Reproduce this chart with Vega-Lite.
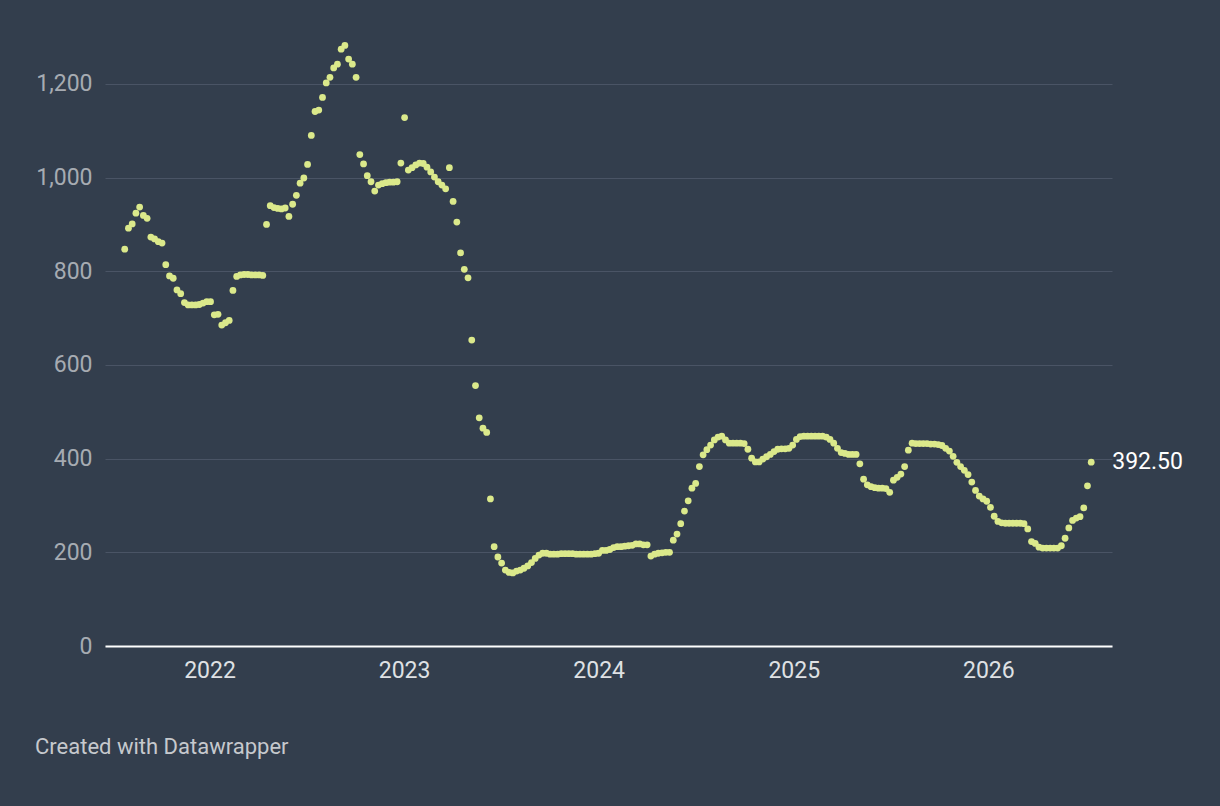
{
  "$schema": "https://vega.github.io/schema/vega-lite/v6.json",
  "width": 1007,
  "height": 609,
  "autosize": {"type": "none"},
  "padding": {"left": 105, "top": 37, "right": 108, "bottom": 160},
  "background": "#333e4d",
  "config": {"view": {"stroke": null}, "font": "Roboto"},
  "title": {
    "text": "Created with Datawrapper",
    "orient": "bottom",
    "anchor": "start",
    "frame": "group",
    "baseline": "top",
    "dx": -70,
    "offset": 55,
    "fontSize": 22,
    "fontWeight": "normal",
    "color": "#c6c9cd"
  },
  "data": {
    "values": [
      {"date": "2021-07-26", "value": 847}, {"date": "2021-08-02", "value": 892}, {"date": "2021-08-09", "value": 901},
      {"date": "2021-08-16", "value": 924}, {"date": "2021-08-23", "value": 937}, {"date": "2021-08-30", "value": 919},
      {"date": "2021-09-06", "value": 913}, {"date": "2021-09-13", "value": 873}, {"date": "2021-09-20", "value": 869},
      {"date": "2021-09-27", "value": 863}, {"date": "2021-10-04", "value": 860}, {"date": "2021-10-11", "value": 814},
      {"date": "2021-10-18", "value": 790}, {"date": "2021-10-25", "value": 785}, {"date": "2021-11-01", "value": 760},
      {"date": "2021-11-08", "value": 752}, {"date": "2021-11-15", "value": 733}, {"date": "2021-11-22", "value": 728},
      {"date": "2021-11-29", "value": 728}, {"date": "2021-12-06", "value": 728}, {"date": "2021-12-13", "value": 729},
      {"date": "2021-12-20", "value": 732}, {"date": "2021-12-27", "value": 735}, {"date": "2022-01-03", "value": 735},
      {"date": "2022-01-10", "value": 707}, {"date": "2022-01-17", "value": 708}, {"date": "2022-01-24", "value": 685},
      {"date": "2022-01-31", "value": 690}, {"date": "2022-02-07", "value": 695}, {"date": "2022-02-14", "value": 759},
      {"date": "2022-02-21", "value": 789}, {"date": "2022-02-28", "value": 792}, {"date": "2022-03-07", "value": 793},
      {"date": "2022-03-14", "value": 793}, {"date": "2022-03-21", "value": 792}, {"date": "2022-03-28", "value": 792},
      {"date": "2022-04-04", "value": 792}, {"date": "2022-04-11", "value": 791}, {"date": "2022-04-18", "value": 900},
      {"date": "2022-04-25", "value": 940}, {"date": "2022-05-02", "value": 936}, {"date": "2022-05-09", "value": 934},
      {"date": "2022-05-16", "value": 933}, {"date": "2022-05-23", "value": 935}, {"date": "2022-05-30", "value": 917},
      {"date": "2022-06-06", "value": 943}, {"date": "2022-06-13", "value": 962}, {"date": "2022-06-20", "value": 988},
      {"date": "2022-06-27", "value": 999}, {"date": "2022-07-04", "value": 1028}, {"date": "2022-07-11", "value": 1090},
      {"date": "2022-07-18", "value": 1141}, {"date": "2022-07-25", "value": 1144}, {"date": "2022-08-01", "value": 1171},
      {"date": "2022-08-08", "value": 1202}, {"date": "2022-08-15", "value": 1214}, {"date": "2022-08-22", "value": 1234},
      {"date": "2022-08-29", "value": 1242}, {"date": "2022-09-05", "value": 1274}, {"date": "2022-09-12", "value": 1282},
      {"date": "2022-09-19", "value": 1253}, {"date": "2022-09-26", "value": 1242}, {"date": "2022-10-03", "value": 1214},
      {"date": "2022-10-10", "value": 1049}, {"date": "2022-10-17", "value": 1029}, {"date": "2022-10-24", "value": 1004},
      {"date": "2022-10-31", "value": 991}, {"date": "2022-11-07", "value": 971}, {"date": "2022-11-14", "value": 984},
      {"date": "2022-11-21", "value": 987}, {"date": "2022-11-28", "value": 989}, {"date": "2022-12-05", "value": 990},
      {"date": "2022-12-12", "value": 990}, {"date": "2022-12-19", "value": 991}, {"date": "2022-12-26", "value": 1031},
      {"date": "2023-01-02", "value": 1128}, {"date": "2023-01-09", "value": 1016}, {"date": "2023-01-16", "value": 1021},
      {"date": "2023-01-23", "value": 1027}, {"date": "2023-01-30", "value": 1031}, {"date": "2023-02-06", "value": 1030},
      {"date": "2023-02-13", "value": 1022}, {"date": "2023-02-20", "value": 1012}, {"date": "2023-02-27", "value": 1001},
      {"date": "2023-03-06", "value": 991}, {"date": "2023-03-13", "value": 984}, {"date": "2023-03-20", "value": 976},
      {"date": "2023-03-27", "value": 1021}, {"date": "2023-04-03", "value": 949}, {"date": "2023-04-10", "value": 905},
      {"date": "2023-04-17", "value": 839}, {"date": "2023-04-24", "value": 804}, {"date": "2023-05-01", "value": 786},
      {"date": "2023-05-08", "value": 653}, {"date": "2023-05-15", "value": 556}, {"date": "2023-05-22", "value": 487},
      {"date": "2023-05-29", "value": 465}, {"date": "2023-06-05", "value": 456}, {"date": "2023-06-12", "value": 314},
      {"date": "2023-06-19", "value": 212}, {"date": "2023-06-26", "value": 190}, {"date": "2023-07-03", "value": 177},
      {"date": "2023-07-10", "value": 162}, {"date": "2023-07-17", "value": 157}, {"date": "2023-07-24", "value": 156},
      {"date": "2023-07-31", "value": 160}, {"date": "2023-08-07", "value": 162}, {"date": "2023-08-14", "value": 166},
      {"date": "2023-08-21", "value": 171}, {"date": "2023-08-28", "value": 178}, {"date": "2023-09-04", "value": 187},
      {"date": "2023-09-11", "value": 194}, {"date": "2023-09-18", "value": 198}, {"date": "2023-09-25", "value": 198},
      {"date": "2023-10-02", "value": 196}, {"date": "2023-10-09", "value": 196}, {"date": "2023-10-16", "value": 196},
      {"date": "2023-10-23", "value": 197}, {"date": "2023-10-30", "value": 197}, {"date": "2023-11-06", "value": 197},
      {"date": "2023-11-13", "value": 197}, {"date": "2023-11-20", "value": 196}, {"date": "2023-11-27", "value": 196},
      {"date": "2023-12-04", "value": 196}, {"date": "2023-12-11", "value": 196}, {"date": "2023-12-18", "value": 196},
      {"date": "2023-12-25", "value": 197}, {"date": "2024-01-01", "value": 198}, {"date": "2024-01-08", "value": 204},
      {"date": "2024-01-15", "value": 204}, {"date": "2024-01-22", "value": 206}, {"date": "2024-01-29", "value": 210},
      {"date": "2024-02-05", "value": 212}, {"date": "2024-02-12", "value": 212}, {"date": "2024-02-19", "value": 213},
      {"date": "2024-02-26", "value": 214}, {"date": "2024-03-04", "value": 215}, {"date": "2024-03-11", "value": 218},
      {"date": "2024-03-18", "value": 218}, {"date": "2024-03-25", "value": 216}, {"date": "2024-04-01", "value": 216},
      {"date": "2024-04-08", "value": 192}, {"date": "2024-04-15", "value": 196}, {"date": "2024-04-22", "value": 198},
      {"date": "2024-04-29", "value": 199}, {"date": "2024-05-06", "value": 200}, {"date": "2024-05-13", "value": 200},
      {"date": "2024-05-20", "value": 226}, {"date": "2024-05-27", "value": 239}, {"date": "2024-06-03", "value": 261},
      {"date": "2024-06-10", "value": 288}, {"date": "2024-06-17", "value": 310}, {"date": "2024-06-24", "value": 337},
      {"date": "2024-07-01", "value": 347}, {"date": "2024-07-08", "value": 383}, {"date": "2024-07-15", "value": 408},
      {"date": "2024-07-22", "value": 419}, {"date": "2024-07-29", "value": 429}, {"date": "2024-08-05", "value": 440},
      {"date": "2024-08-12", "value": 446}, {"date": "2024-08-19", "value": 448}, {"date": "2024-08-26", "value": 440},
      {"date": "2024-09-02", "value": 433}, {"date": "2024-09-09", "value": 433}, {"date": "2024-09-16", "value": 433},
      {"date": "2024-09-23", "value": 433}, {"date": "2024-09-30", "value": 432}, {"date": "2024-10-07", "value": 420},
      {"date": "2024-10-14", "value": 401}, {"date": "2024-10-21", "value": 393}, {"date": "2024-10-28", "value": 393},
      {"date": "2024-11-04", "value": 399}, {"date": "2024-11-11", "value": 404}, {"date": "2024-11-18", "value": 409},
      {"date": "2024-11-25", "value": 415}, {"date": "2024-12-02", "value": 420}, {"date": "2024-12-09", "value": 421},
      {"date": "2024-12-16", "value": 421}, {"date": "2024-12-23", "value": 422}, {"date": "2024-12-30", "value": 429},
      {"date": "2025-01-06", "value": 441}, {"date": "2025-01-13", "value": 447}, {"date": "2025-01-20", "value": 448},
      {"date": "2025-01-27", "value": 448}, {"date": "2025-02-03", "value": 448}, {"date": "2025-02-10", "value": 448},
      {"date": "2025-02-17", "value": 448}, {"date": "2025-02-24", "value": 448}, {"date": "2025-03-03", "value": 446},
      {"date": "2025-03-10", "value": 441}, {"date": "2025-03-17", "value": 433}, {"date": "2025-03-24", "value": 422},
      {"date": "2025-03-31", "value": 413}, {"date": "2025-04-07", "value": 411}, {"date": "2025-04-14", "value": 409},
      {"date": "2025-04-21", "value": 409}, {"date": "2025-04-28", "value": 409}, {"date": "2025-05-05", "value": 389},
      {"date": "2025-05-12", "value": 356}, {"date": "2025-05-19", "value": 344}, {"date": "2025-05-26", "value": 340},
      {"date": "2025-06-02", "value": 338}, {"date": "2025-06-09", "value": 337}, {"date": "2025-06-16", "value": 337},
      {"date": "2025-06-23", "value": 336}, {"date": "2025-06-30", "value": 328}, {"date": "2025-07-07", "value": 354},
      {"date": "2025-07-14", "value": 360}, {"date": "2025-07-21", "value": 367}, {"date": "2025-07-28", "value": 383},
      {"date": "2025-08-04", "value": 418}, {"date": "2025-08-11", "value": 433}, {"date": "2025-08-18", "value": 432},
      {"date": "2025-08-25", "value": 432}, {"date": "2025-09-01", "value": 432}, {"date": "2025-09-08", "value": 432},
      {"date": "2025-09-15", "value": 431}, {"date": "2025-09-22", "value": 431}, {"date": "2025-09-29", "value": 430},
      {"date": "2025-10-06", "value": 428}, {"date": "2025-10-13", "value": 422}, {"date": "2025-10-20", "value": 416},
      {"date": "2025-10-27", "value": 405}, {"date": "2025-11-03", "value": 392}, {"date": "2025-11-10", "value": 383},
      {"date": "2025-11-17", "value": 375}, {"date": "2025-11-24", "value": 366}, {"date": "2025-12-01", "value": 350},
      {"date": "2025-12-08", "value": 332}, {"date": "2025-12-15", "value": 320}, {"date": "2025-12-22", "value": 314},
      {"date": "2025-12-29", "value": 309}, {"date": "2026-01-05", "value": 296}, {"date": "2026-01-12", "value": 277},
      {"date": "2026-01-19", "value": 266}, {"date": "2026-01-26", "value": 263}, {"date": "2026-02-02", "value": 262},
      {"date": "2026-02-09", "value": 262}, {"date": "2026-02-16", "value": 262}, {"date": "2026-02-23", "value": 262},
      {"date": "2026-03-02", "value": 262}, {"date": "2026-03-09", "value": 261}, {"date": "2026-03-16", "value": 250},
      {"date": "2026-03-23", "value": 223}, {"date": "2026-03-30", "value": 219}, {"date": "2026-04-06", "value": 211},
      {"date": "2026-04-13", "value": 209}, {"date": "2026-04-20", "value": 209}, {"date": "2026-04-27", "value": 209},
      {"date": "2026-05-04", "value": 209}, {"date": "2026-05-11", "value": 209}, {"date": "2026-05-18", "value": 214},
      {"date": "2026-05-25", "value": 230}, {"date": "2026-06-01", "value": 252}, {"date": "2026-06-08", "value": 268},
      {"date": "2026-06-15", "value": 273}, {"date": "2026-06-22", "value": 276}, {"date": "2026-06-29", "value": 295},
      {"date": "2026-07-06", "value": 342}, {"date": "2026-07-13", "value": 392.5}
    ]
  },
  "encoding": {
    "x": {
      "field": "date",
      "type": "temporal",
      "scale": {
        "domain": [
          {"year": 2021, "month": "jun", "date": 19, "utc": true},
          {"year": 2026, "month": "aug", "date": 21, "utc": true}
        ]
      },
      "axis": {
        "title": null,
        "format": "%Y",
        "tickCount": {"interval": "year", "step": 1},
        "grid": false,
        "ticks": false,
        "tickSize": 0,
        "domainColor": "#ffffff",
        "domainWidth": 2,
        "labelColor": "#dfe1e4",
        "labelFontSize": 23,
        "labelPadding": 13
      }
    },
    "y": {
      "field": "value",
      "type": "quantitative",
      "scale": {"domain": [0, 1300], "nice": false},
      "axis": {
        "title": null,
        "values": [0, 200, 400, 600, 800, 1000, 1200],
        "format": ",d",
        "grid": true,
        "gridColor": "#4a5465",
        "domain": false,
        "ticks": false,
        "tickSize": 0,
        "labelColor": "#a6abb2",
        "labelFontSize": 23,
        "labelPadding": 13
      }
    }
  },
  "layer": [
    {
      "mark": {"type": "circle", "size": 46, "color": "#dbe98b", "opacity": 1}
    },
    {
      "transform": [{"filter": "datum.value == 392.5"}],
      "mark": {"type": "text", "align": "left", "baseline": "middle", "dx": 21, "fontSize": 23, "color": "#ffffff"},
      "encoding": {"text": {"field": "value", "format": ".2f"}}
    }
  ]
}
